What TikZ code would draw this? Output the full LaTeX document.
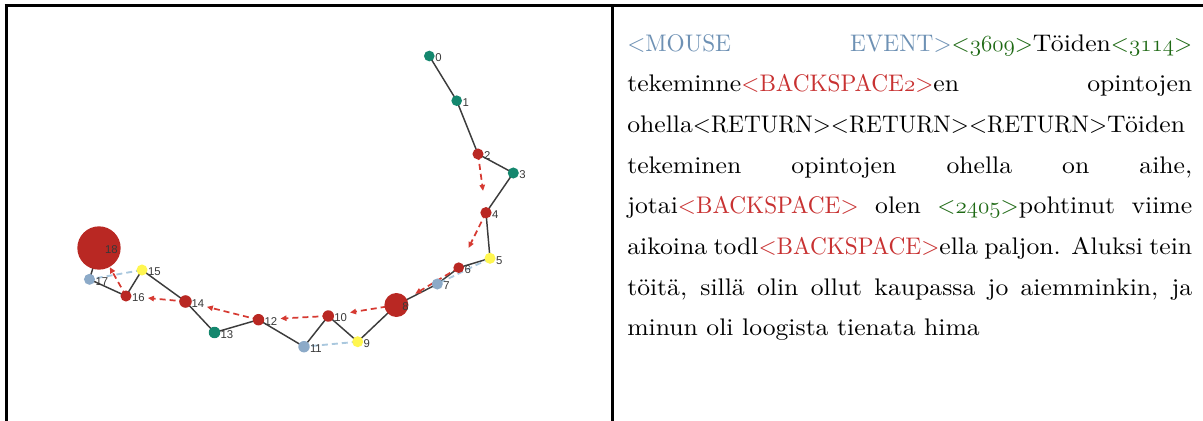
\documentclass[tikz,border=0pt]{standalone}
\usepackage{fontspec}
\newfontfamily\lblfont{Liberation Sans}
\newfontfamily\bodyfont{lmroman10-regular.otf}[FakeStretch=1.07]
\newfontfamily\tagfont{lmroman10-regular.otf}[FakeStretch=0.97]
\usetikzlibrary{calc,arrows.meta}
\pgfdeclarelayer{bg}
\pgfsetlayers{bg,main}
\definecolor{tealn}{RGB}{20,135,110}
\definecolor{redn}{RGB}{185,40,35}
\definecolor{yellown}{RGB}{255,246,80}
\definecolor{bluen}{RGB}{140,170,200}
\definecolor{blueedge}{RGB}{170,200,222}
\definecolor{rededge}{RGB}{214,58,50}
\definecolor{darkedge}{RGB}{60,60,60}
\definecolor{mouseblue}{RGB}{110,145,180}
\definecolor{numgreen}{RGB}{30,105,20}
\definecolor{bsred}{RGB}{200,50,50}
\newcommand{\osn}[1]{$\mathnormal{#1}$}
\newcommand{\tg}[1]{{\tagfont #1}}
\tikzset{
  vtx/.style 2 args={circle, fill=#1, minimum size=#2, inner sep=0pt, draw=none},
  lbl/.style={font=\lblfont\fontsize{8.5}{9}\selectfont, text=black!78, inner sep=0pt, anchor=west},
  solidedge/.style={draw=darkedge, line width=1.1pt},
  bluedash/.style={draw=blueedge, line width=1.4pt, dash pattern=on 4.5pt off 3pt},
  reddash/.style={draw=rededge, line width=1.3pt, dash pattern=on 4.5pt off 3pt, -{Triangle[length=4.5pt,width=4pt]}},
  border/.style={line width=2.25pt, black}
}
\begin{document}
\begin{tikzpicture}[x=0.75pt,y=-0.75pt]
\useasboundingbox (0,0) rectangle (1203,421);
% table borders
\draw[border] (4.7,5.5) -- (1203,5.5);
\draw[border] (6.2,4.4) -- (6.2,421);
\draw[border] (612.5,4.4) -- (612.5,421);
% vertices
\node[vtx={tealn}{8pt}] (n0) at (429.3,56) {};
\node[vtx={tealn}{8pt}] (n1) at (456.7,100.7) {};
\node[vtx={redn}{8.3pt}] (n2) at (478,154) {};
\node[vtx={tealn}{8.3pt}] (n3) at (513.3,173) {};
\node[vtx={redn}{8.5pt}] (n4) at (486,212.7) {};
\node[vtx={yellown}{8.3pt}] (n5) at (490,258.3) {};
\node[vtx={redn}{8pt}] (n6) at (458.7,267.7) {};
\node[vtx={bluen}{8.3pt}] (n7) at (437.3,284) {};
\node[vtx={redn}{18pt}] (n8) at (396.4,305) {};
\node[vtx={yellown}{8.3pt}] (n9) at (357.7,341.7) {};
\node[vtx={redn}{8.6pt}] (n10) at (328.3,316) {};
\node[vtx={bluen}{8.6pt}] (n11) at (304,346.7) {};
\node[vtx={redn}{8.6pt}] (n12) at (258.5,319.7) {};
\node[vtx={tealn}{8.6pt}] (n13) at (214.5,332.5) {};
\node[vtx={redn}{9.4pt}] (n14) at (185.5,301.5) {};
\node[vtx={yellown}{8.3pt}] (n15) at (142,270) {};
\node[vtx={redn}{8.3pt}] (n16) at (126,296) {};
\node[vtx={bluen}{8.3pt}] (n17) at (89.5,279.3) {};
\node[vtx={redn}{32.5pt}] (n18) at (99,248) {};
% labels
\foreach \i in {0,...,18}{
  \node[lbl] (l\i) at ([xshift=4.3pt,yshift=-1.5pt]n\i.center) {\i};
}
% edges
\begin{pgfonlayer}{bg}
\foreach \a/\b in {0/1,1/2,2/3,3/4,4/5,5/6,6/7,7/8,8/9,9/10,10/11,11/12,12/13,13/14,14/15,15/16,16/17,17/18}{
  \draw[solidedge] (n\a.center) -- (n\b.center);
}
\foreach \a/\b in {5/7,9/11,15/17}{
  \draw[bluedash] (n\a.center) -- (n\b.center);
}
\foreach \a/\b in {2/4,4/6,6/8,8/10,10/12,12/14,14/16,16/18}{
  \draw[reddash] (n\a.center) -- ($(n\b.center)!16.5pt!(n\a.center)$);
}
\end{pgfonlayer}
% text
\node[anchor=base west, inner sep=0pt] (txt) at (627,51) {\parbox[t]{423.75pt}{\bodyfont\fontsize{18}{30.5}\selectfont\leavevmode
{\color{mouseblue}\tg{<MOUSE EVENT>}}{\color{numgreen}\tg{<}\osn{3609}\tg{>}}Töiden{\color{numgreen}\tg{<}\osn{3114}\tg{>}}\linebreak
tekeminne{\color{bsred}\tg{<BACKSPACE}\osn{2}\tg{>}}en opintojen\linebreak
ohella\tg{<RETURN><RETURN><RETURN>}Töiden\newline
tekeminen opintojen ohella on aihe,\linebreak
jotai{\color{bsred}\tg{<BACKSPACE>}} olen {\color{numgreen}\tg{<}\osn{2405}\tg{>}}pohtinut viime\linebreak
aikoina todl{\color{bsred}\tg{<BACKSPACE>}}ella paljon. Aluksi tein\linebreak
töitä, sillä olin ollut kaupassa jo aiemminkin, ja\linebreak
minun oli loogista tienata hima\par}};
\end{tikzpicture}
\end{document}
